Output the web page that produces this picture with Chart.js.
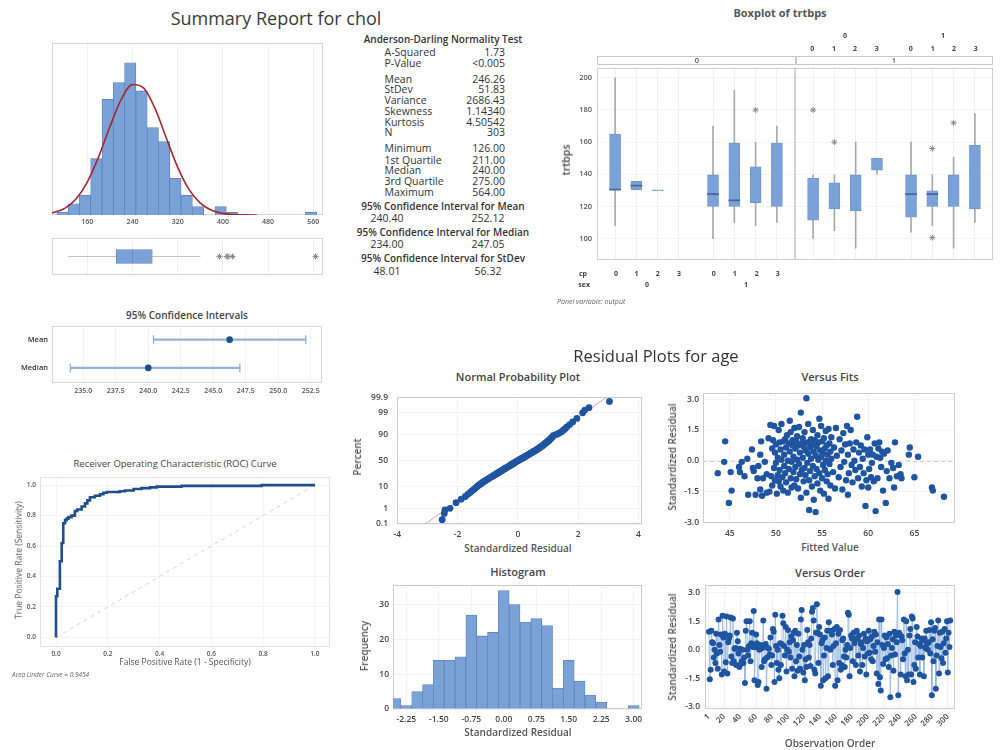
<!DOCTYPE html>
<html><head><meta charset="utf-8">
<script src="https://cdn.jsdelivr.net/npm/chart.js@4.4.1/dist/chart.umd.min.js"></script>
<style>
html,body{margin:0;padding:0;background:#fff;width:1000px;height:750px;overflow:hidden;font-family:'Open Sans',sans-serif;}
.t{position:absolute;white-space:nowrap;line-height:1;color:#333;}
canvas{position:absolute;}
.strip{position:absolute;border:1px solid #c8c8c8;box-sizing:border-box;background:#fff;}
</style></head><body>
<script>
// ---------------- DATA ----------------
// Summary report for chol
const cholBinMid = [116,136,156,176,196,216,236,256,276,296,316,336,356,376,396,416,436,456,476,496,516,536,556];
const cholCount  = [1,4,7,20,41,47,54,44,31,26,13,7,3,0,3,1,0,0,0,0,0,0,1];
const cholFitX = [96,100,120,140,160,180,200,220,240,260,280,300,320,340,360,380,400,420,440,460];
const cholFitY = [0.70,0.87,2.37,5.70,11.67,20.6,31.3,41.0,46.3,45.0,37.7,27.2,16.9,9.08,4.19,1.67,0.57,0.17,0.04,0.01];
const cholXTicks = [160,240,320,400,480,560];
const cholQuart = [211,240,275];     // Q1, median, Q3
const cholWhisk = [126,360];
const cholOut = [394,407,409,417,564];
const statLabels = ['A-Squared','P-Value','Mean','StDev','Variance','Skewness','Kurtosis','N','Minimum','1st Quartile','Median','3rd Quartile','Maximum'];
const statValues = ['1.73','<0.005','246.26','51.83','2686.43','1.14340','4.50542','303','126.00','211.00','240.00','275.00','564.00'];
const ciHeads = ['95% Confidence Interval for Mean','95% Confidence Interval for Median','95% Confidence Interval for StDev'];
const ciHeadLow = ['240.40','234.00','48.01'];
const ciHeadHigh = ['252.12','247.05','56.32'];
// 95% confidence intervals
const ciNames = ['Mean','Median'];
const ciLow  = [240.40,234.00];
const ciHigh = [252.12,247.05];
const ciEst  = [246.26,240.00];
const ciTicks = [235,237.5,240,242.5,245,247.5,250,252.5];
// ROC
const rocFpr = [0,0,0.005,0.015,0.022,0.028,0.035,0.041,0.048,0.060,0.073,0.082,0.099,0.112,0.121,0.131,0.150,0.170,0.183,0.196,0.247,0.266,0.300,0.330,0.363,0.389,0.485,0.794,1.0];
const rocTpr = [0,0.17,0.27,0.32,0.50,0.62,0.75,0.77,0.78,0.79,0.80,0.83,0.84,0.86,0.88,0.90,0.92,0.93,0.94,0.95,0.955,0.96,0.965,0.975,0.98,0.985,0.99,0.995,1.0];
const rocTicks = [0,0.2,0.4,0.6,0.8,1.0];
// Boxplot of trtbps (panel: output, groups: sex, cp)
const bpOutput = [0,0,0,0,0,0,0,0,1,1,1,1,1,1,1,1];
const bpSex    = [0,0,0,0,1,1,1,1,0,0,0,0,1,1,1,1];
const bpCp     = [0,1,2,3,0,1,2,3,0,1,2,3,0,1,2,3];
const bpQ1  = [130.5,130.3,129.7,null,120,120,122.4,120,111.5,118.4,117.2,142.6,113.3,120,120,118.4];
const bpMed = [130.5,133,null,null,127.7,123.8,null,null,null,null,null,null,127.7,127.7,null,null];
const bpQ3  = [165,135.6,130.3,null,139.6,159.4,144.6,159.4,137.6,134.7,139.6,150,139.6,129.7,139.6,158];
const bpWLo = [108,null,null,null,100,110,108,110,100,105,94,140,104,108,94,110];
const bpWHi = [200,null,null,null,170,192,160,170,139.6,139.6,160,150,160,139.6,150.5,177.7];
const bpOutGroup = [6,8,9,13,13,14];
const bpOutVal   = [180,180,160,156,100.6,172];
const bpYTicks = [100,120,140,160,180,200];
// Residual plots for age
const probPct = [0.2,0.5,0.8,1,2,3,4,5,6,7,8,9,10,11,12,13,14,15,16,17,18,19,20,21,22,23,24,25,26,27,28,29,30,31,32,33,34,35,36,37,38,39,40,41,42,43,44,45,46,47,48,49,50,51,52,53,54,55,56,57,58,59,60,61,62,63,64,65,66,67,68,69,70,71,72,73,74,75,76,77,78,79,80,81,82,83,84,85,86,87,88,89,90,91,92,93,94,95,96,97,98,99,99.3,99.5,99.8];
const probRes = [-2.51,-2.44,-2.42,-2.25,-2.05,-1.88,-1.74,-1.66,-1.58,-1.52,-1.46,-1.41,-1.36,-1.32,-1.27,-1.22,-1.18,-1.14,-1.10,-1.05,-1.01,-0.97,-0.93,-0.89,-0.85,-0.81,-0.78,-0.74,-0.71,-0.67,-0.64,-0.61,-0.57,-0.54,-0.51,-0.48,-0.45,-0.42,-0.39,-0.36,-0.33,-0.30,-0.27,-0.24,-0.21,-0.19,-0.16,-0.13,-0.10,-0.08,-0.05,-0.02,0.01,0.04,0.07,0.10,0.13,0.16,0.19,0.22,0.25,0.28,0.31,0.34,0.37,0.40,0.43,0.46,0.49,0.52,0.56,0.59,0.62,0.65,0.68,0.71,0.74,0.77,0.80,0.83,0.86,0.89,0.92,0.95,0.98,1.01,1.04,1.07,1.10,1.13,1.16,1.19,1.30,1.38,1.45,1.51,1.57,1.63,1.72,1.82,1.96,2.15,2.22,2.36,3.04];
const probFitRes = [-3.08,2.95];
const probFitPct = [0.1,99.9];
const probXTicks = [-4,-2,0,2,4];
const probYTicks = [0.1,1,10,50,90,99,99.9];
const fitsVsResid = [[43.7,-0.60],[44.4,-0.05],[44.5,0.95],[44.9,-2.05],[45.1,-0.55],[45.2,-1.45],[46.0,-0.30],[46.1,-0.55],[46.3,-0.05],[46.6,-0.75],[46.9,0.10],[47.0,-1.65],[47.4,0.55],[47.5,-0.35],[47.6,-0.50],[47.8,-1.65],[48.0,-0.85],[48.1,-0.25],[48.3,0.30],[48.4,0.95],[48.3,-1.40],[48.5,-1.70],[48.6,-0.85],[48.8,-0.05],
[49.0,-0.65],[49.0,-1.55],[49.2,1.10],[49.3,-1.50],[49.4,1.75],[49.5,-0.75],[49.6,0.60],[49.7,1.00],[49.6,-1.20],[49.8,1.70],[49.8,-0.35],[49.9,0.40],[49.9,-0.95],[50.0,0.80],[50.0,-0.10],[50.1,-1.60],[50.2,0.15],[50.2,-0.70],[50.3,1.50],[50.3,-1.00],[50.4,0.90],[50.4,-0.45],[50.5,0.55],[50.5,-1.25],[50.6,1.80],[50.6,0.05],[50.7,-0.80],[50.8,0.95],[50.8,-1.45],[50.9,0.30],[50.9,-0.25],[51.0,1.05],[51.0,-0.60],[51.1,0.65],[51.1,-1.05],[51.2,1.25],[51.3,0.00],[51.3,-1.55],[51.4,0.85],[51.4,-0.40],[51.5,1.95],[51.5,0.45],[51.6,-0.85],[51.6,1.40],[51.7,-0.05],[51.7,-1.30],[51.8,0.75],[51.8,1.00],[51.9,-0.55],[51.9,0.20],[52.0,-1.20],[52.0,1.60],[52.1,0.60],[52.1,-0.30],[52.2,0.95],[52.2,-0.90],[52.3,1.20],[52.3,0.05],[52.4,-1.35],[52.4,0.75],[52.5,-0.15],[52.5,1.65],[52.6,0.40],[52.6,-0.65],[52.7,2.35],[52.7,-1.80],[52.8,0.85],[52.8,-0.45],[52.9,1.10],[52.9,0.15],[53.0,-1.00],[53.0,0.70],[53.1,-0.35],[53.1,1.40],[53.2,0.50],[53.2,-0.70],[53.3,3.05],[53.3,-1.55],[53.4,0.90],[53.4,-0.10],[53.5,1.80],[53.5,0.35],[53.6,-0.95],[53.6,-2.40],[53.7,0.65],[53.7,-0.50],[53.8,1.05],[53.8,0.10],[53.9,-1.25],[53.9,0.80],[54.0,-0.25],[54.0,1.50],[54.1,0.45],[54.1,-1.90],[54.2,-0.75],[54.2,1.00],[54.3,0.25],[54.3,-2.50],[54.4,0.70],[54.4,-0.40],[54.5,1.25],[54.5,-1.10],[54.6,0.05],[54.6,0.90],[54.7,2.05],[54.7,-0.60],[54.8,0.50],[54.8,-1.45],[54.9,1.70],[54.9,0.20],[55.0,-0.85],[55.0,0.95],[55.1,0.35],[55.1,-0.20],[55.2,1.10],[55.2,-1.60],[55.3,0.60],[55.3,-0.45],[55.4,1.45],[55.4,0.00],[55.5,-1.00],[55.5,0.75],[55.6,0.30],[55.6,-0.65],[55.7,1.55],[55.7,-1.85],[55.8,0.85],[55.8,-0.15],[55.9,0.45],[55.9,-1.20],[56.0,1.15],[56.0,0.10],[56.2,-0.55],[56.3,0.65],[56.4,-1.35],[56.5,1.60],[56.6,0.25],[56.8,-0.80],[56.9,1.05],[57.0,-0.30],[57.1,0.50],[57.2,-1.40],[57.3,1.35],[57.4,-0.05],[57.5,0.80],[57.6,-0.95],[57.7,1.70],[57.8,0.30],[57.8,-1.65],[57.9,-0.60],[58.0,0.85],[58.1,1.50],[58.2,-0.20],[58.3,-1.05],[58.4,0.55],[58.5,0.00],[58.6,-0.45],[58.7,0.90],[58.8,2.15],[58.9,-0.85],[59.0,0.40],[59.1,-0.30],[59.2,0.75],[59.3,-1.25],[59.4,0.10],[59.5,-0.60],[59.6,0.55],[59.7,-2.20],[59.8,-0.95],[59.9,1.15],[60.0,0.30],[60.0,-1.30],[60.1,-0.40],[60.2,0.55],[60.3,-0.80],[60.4,-0.10],[60.5,0.30],[60.6,-1.00],[60.7,0.85],[60.8,-2.45],[60.9,0.20],[61.0,-0.85],[61.1,0.60],[61.2,0.90],[61.3,0.15],[61.4,-0.30],[61.5,0.45],[61.6,-1.45],[61.7,0.35],[61.9,-2.05],[62.0,-0.50],[62.1,0.50],[62.3,-0.85],[62.5,-0.10],[62.7,-0.35],[62.9,0.90],[62.8,-1.30],[63.1,-0.75],[63.3,-0.20],[63.5,-0.65],[63.6,-0.85],[64.4,0.30],[64.5,0.65],[65.0,-0.80],[65.4,0.20],[66.9,-1.30],[67.0,-1.45],[68.2,-1.75]];
const fitsXTicks = [45,50,55,60,65];
const residYTicks = [-3,-1.5,0,1.5,3];
const histMid = [-2.5,-2.25,-2,-1.75,-1.5,-1.25,-1,-0.75,-0.5,-0.25,0,0.25,0.5,0.75,1,1.25,1.5,1.75,2,2.25,2.5,2.75,3];
const histCount = [3,1,5,7,14,14,15,27,21,22,34,30,25,26,24,6,14,8,4,2,0,0,1];
const histXTicks = [-2.25,-1.5,-0.75,0,0.75,1.5,2.25,3];
const histYTicks = [0,10,20,30];
const resOrder = [
0.95,-1.55,-1.05,1.00,0.40,0.35,-0.40,0.00,-0.70,0.85,-0.20,-1.00,1.60,0.25,-0.10,0.80,-1.30,1.80,0.65,-1.15,
0.85,-0.65,1.75,-1.25,0.40,0.60,0.75,1.70,-0.35,-0.70,1.65,-0.60,0.05,0.10,-0.80,0.90,0.45,-0.20,-0.90,0.05,
-0.75,-0.60,0.00,-0.70,-0.40,-1.75,1.00,1.50,0.00,-0.30,0.20,1.50,-0.60,0.35,0.90,0.15,2.05,-1.60,0.15,0.80,
0.35,-1.85,-1.70,0.00,0.05,0.25,-0.90,0.10,1.55,-0.60,-0.50,0.30,-2.05,-0.40,0.10,0.05,-0.25,0.65,-0.80,-0.30,
1.10,0.95,-1.70,1.85,0.20,-0.70,0.00,-1.05,-1.50,0.35,-0.80,0.30,1.80,1.40,0.20,-0.30,1.20,-1.15,0.00,1.05,
-0.10,0.40,-0.40,0.70,-1.00,0.50,0.90,-1.40,1.00,-0.60,0.25,-1.10,0.85,-0.35,-1.00,1.60,2.10,0.00,-1.20,0.25,
-1.60,-0.50,-0.90,1.05,0.40,-0.40,0.25,-0.85,0.60,2.00,2.20,1.55,-1.05,-1.25,0.90,2.40,0.90,-0.70,1.20,0.80,
-1.90,0.35,0.50,-1.60,-0.30,0.65,-1.50,0.10,1.00,-1.40,1.45,0.05,0.00,1.00,0.80,-0.80,0.20,1.10,-1.90,0.35,
1.20,-1.60,0.85,-0.70,1.05,-1.05,-0.80,0.50,0.60,-0.35,-0.90,0.00,-0.40,0.25,1.95,1.85,-1.40,0.10,0.75,0.60,
-0.60,0.90,0.35,0.60,-0.80,1.00,0.55,-0.30,0.75,-1.15,0.30,0.40,-0.80,0.10,0.85,-0.35,0.60,-1.30,0.45,-0.20,
1.00,-0.15,0.55,-0.50,0.70,-0.60,0.20,0.95,-0.10,0.80,-1.25,0.40,-1.80,1.60,-1.45,-2.15,1.60,0.25,-0.75,0.10,
0.75,-0.50,0.65,-0.45,0.30,-0.90,0.85,-2.50,-0.30,0.10,0.55,-1.10,0.95,-0.25,0.75,0.40,3.05,-2.40,0.90,0.80,
-1.30,0.70,0.50,-0.50,1.60,-0.20,-1.40,1.50,-1.60,0.00,-1.30,0.75,1.10,-1.30,1.75,1.65,-1.70,-0.80,0.40,-1.00,
1.20,0.70,-0.40,0.30,-1.30,0.20,0.60,-0.40,0.50,-1.40,0.60,0.10,1.00,0.30,0.00,0.40,1.05,-0.20,1.45,-2.40,
0.55,-0.60,1.00,1.15,-2.05,-0.30,0.20,1.55,-1.25,0.90,0.15,-0.45,0.95,-0.70,0.35,1.10,-0.15,0.60,1.50,-1.20,
0.90,0.15,1.55];
const orderXTicks = [1,20,40,60,80,100,120,140,160,180,200,220,240,260,280,300];

// ---------------- STYLE / LAYOUT ----------------
const BLUE_FILL = '#7ba2d8', BLUE_EDGE = '#5b82ba', DOT = '#1f55a0';
const PANEL_W = 9.3, SEX_GAP = 4.6;
Chart.defaults.font.family = "'Open Sans', sans-serif";

Chart.register({id:'frame', beforeDatasetsDraw(chart, args, o){
  if(!o || !o.color) return;
  const a = chart.chartArea, c = chart.ctx;
  c.save(); c.strokeStyle = o.color; c.lineWidth = 1;
  c.strokeRect(Math.round(a.left)+0.5, Math.round(a.top)+0.5, Math.round(a.right-a.left)-1, Math.round(a.bottom-a.top)-1);
  c.restore();
}});
Chart.register({id:'refline', beforeDatasetsDraw(chart, args, o){
  if(!o || o.y === undefined) return;
  const a = chart.chartArea, c = chart.ctx, y = Math.round(chart.scales.y.getPixelForValue(o.y))+0.5;
  c.save(); c.strokeStyle = o.color || '#ddd'; c.setLineDash([4,3]); c.lineWidth = 1;
  c.beginPath(); c.moveTo(a.left, y); c.lineTo(a.right, y); c.stroke(); c.restore();
}});

function T(str, x, y, o = {}){
  const d = document.createElement('div'); d.className = 't'; d.textContent = str;
  d.style.fontSize = (o.size || 10) + 'px';
  if(o.weight) d.style.fontWeight = o.weight;
  if(o.color) d.style.color = o.color;
  if(o.italic) d.style.fontStyle = 'italic';
  const a = o.align || 'c';
  const tx = a === 'c' ? '-50%' : a === 'r' ? '-100%' : '0';
  d.style.left = x + 'px'; d.style.top = y + 'px';
  d.style.transform = `translate(${tx},-50%)` + (o.rot ? ` rotate(${o.rot}deg)` : '');
  document.body.appendChild(d);
}

function ax(min, max, ticks, fmt, opt = {}){
  return {
    type:'linear', min, max, offset:false,
    grid:{display: !!opt.grid, color: opt.grid || '#eee', drawTicks:false, offset:false},
    border:{display:false},
    afterBuildTicks: s => { s.ticks = ticks.map(v => ({value:v})); },
    ticks:{display: ticks.length > 0 && !opt.hide, autoSkip:false, padding: opt.pad ?? 3,
      color: opt.color || '#444', font:{size: opt.size || 8.5, weight: opt.weight || '600'},
      maxRotation: opt.rot || 0, minRotation: opt.rot || 0,
      callback: (v, i) => fmt ? fmt(v, i) : String(v)}
  };
}

function mk(plot, m, cfg){
  const [l,t,r,b] = plot, [ml,mt,mr,mb] = m;
  const c = document.createElement('canvas');
  const W = r - l + ml + mr, H = b - t + mt + mb;
  c.width = W; c.height = H;
  c.style.left = (l - ml) + 'px'; c.style.top = (t - mt) + 'px';
  c.style.width = W + 'px'; c.style.height = H + 'px';
  document.body.appendChild(c);
  const o = cfg.options;
  o.responsive = false; o.animation = false; o.devicePixelRatio = 1;
  o.layout = {padding:{left:0, top:mt, right:mr, bottom:0}};
  o.plugins = Object.assign({legend:{display:false}, tooltip:{enabled:false}}, o.plugins || {});
  o.scales.x.afterFit = s => { s.height = mb; };
  o.scales.y.afterFit = s => { s.width = ml; };
  return new Chart(c, cfg);
}

// probit transform for the normal probability scale
function probit(p){
  const a=[-39.69683028665376,220.9460984245205,-275.9285104469687,138.3577518672690,-30.66479806614716,2.506628277459239];
  const b=[-54.47609879822406,161.5858368580409,-155.6989798598866,66.80131188771972,-13.28068155288572];
  const c=[-0.007784894002430293,-0.3223964580411365,-2.400758277161838,-2.549732539343734,4.374664141464968,2.938163982698783];
  const d=[0.007784695709041462,0.3224671290700398,2.445134137142996,3.754408661907416];
  const pl=0.02425; let q,r;
  if(p<pl){q=Math.sqrt(-2*Math.log(p));return (((((c[0]*q+c[1])*q+c[2])*q+c[3])*q+c[4])*q+c[5])/((((d[0]*q+d[1])*q+d[2])*q+d[3])*q+1);}
  if(p<=1-pl){q=p-0.5;r=q*q;return (((((a[0]*r+a[1])*r+a[2])*r+a[3])*r+a[4])*r+a[5])*q/(((((b[0]*r+b[1])*r+b[2])*r+b[3])*r+b[4])*r+1);}
  q=Math.sqrt(-2*Math.log(1-p));return -(((((c[0]*q+c[1])*q+c[2])*q+c[3])*q+c[4])*q+c[5])/((((d[0]*q+d[1])*q+d[2])*q+d[3])*q+1);
}
const pz = pct => probit(pct/100);

// ---------------- SUMMARY REPORT ----------------
T('Summary Report for chol', 276, 18, {size:18, color:'#3a3a3a', weight:500});
mk([52,43,323,215],[6,8,12,15],{
  type:'bar',
  data:{datasets:[
    {type:'line', data:cholFitX.map((x,i)=>({x, y:cholFitY[i]})), borderColor:'#a3282e', borderWidth:1.6, pointRadius:0, cubicInterpolationMode:'monotone', order:1},
    {type:'bar', data:cholBinMid.map((x,i)=>({x, y:cholCount[i]})), backgroundColor:BLUE_FILL, borderColor:BLUE_EDGE, borderWidth:0.8, barPercentage:1, categoryPercentage:1, order:2}
  ]},
  options:{scales:{
    x: ax(97.5,577.2,cholXTicks,null,{size:7,grid:'#f1f1f1',pad:3,color:'#555'}),
    y: ax(0,61,[],null)
  }, plugins:{frame:{color:'#d6d6d6'}}}
});
mk([52,237,323,276],[6,4,12,4],{
  type:'bar',
  data:{datasets:[
    {type:'scatter', data:cholOut.map(x=>({x, y:0})), pointStyle:'star', radius:3, borderColor:'#8a8a8a', borderWidth:1, order:1},
    {type:'bar', indexAxis:'y', grouped:false, data:[{x:[cholQuart[1],cholQuart[2]], y:0}], backgroundColor:BLUE_FILL, borderColor:BLUE_EDGE, borderWidth:0.8, borderSkipped:false, barThickness:14, order:2},
    {type:'bar', indexAxis:'y', grouped:false, data:[{x:[cholQuart[0],cholQuart[1]], y:0}], backgroundColor:BLUE_FILL, borderColor:BLUE_EDGE, borderWidth:0.8, borderSkipped:false, barThickness:14, order:3},
    {type:'line', data:cholWhisk.map(x=>({x, y:0})), borderColor:'#c4c4c4', borderWidth:1, pointRadius:0, order:4}
  ]},
  options:{scales:{
    x: ax(97.5,577.2,cholXTicks,null,{grid:'#f1f1f1',hide:true}),
    y: ax(-1,1,[],null)
  }, plugins:{frame:{color:'#d6d6d6'}}}
});

// statistics text block
T('Anderson-Darling Normality Test', 443, 39, {size:10, weight:600});
const statY = [51.7,62.7,78.7,89.3,100,110.7,121.7,132.3,148.3,159.7,170.3,181.3,191.7];
statLabels.forEach((s,i)=>{ T(s, 384.5, statY[i], {size:10.5, weight:500, align:'l'}); T(statValues[i], 505, statY[i], {size:10.5, weight:500, align:'r'}); });
const ciHeadY = [205.7,231.7,258];
ciHeads.forEach((h,i)=>{ T(h, 443, ciHeadY[i], {size:10, weight:600}); T(ciHeadLow[i], 387, ciHeadY[i]+12.5, {size:10.5, weight:500}); T(ciHeadHigh[i], 488, ciHeadY[i]+12.5, {size:10.5, weight:500}); });

// 95% confidence intervals
T('95% Confidence Intervals', 187, 315, {size:10, weight:600, color:'#444'});
mk([52,323,322,382],[52,6,12,14],{
  type:'bar',
  data:{labels:ciNames, datasets:[
    {type:'scatter', data:ciEst.map((x,i)=>({x, y:ciNames[i]})), pointRadius:3.3, backgroundColor:'#1f4e8c', borderWidth:0, order:1},
    {type:'scatter', data:ciLow.map((x,i)=>({x, y:ciNames[i]})).concat(ciHigh.map((x,i)=>({x, y:ciNames[i]}))), pointStyle:'line', rotation:90, radius:4.5, borderColor:'#93b3d6', borderWidth:1.3, order:2},
    {type:'bar', indexAxis:'y', data:ciLow.map((lo,i)=>[lo, ciHigh[i]]), backgroundColor:'#93b3d6', barThickness:1.4, order:3}
  ]},
  options:{scales:{
    x: ax(232.59,253.37,ciTicks,v=>v.toFixed(1),{size:7,grid:'#f3f3f3',pad:5,color:'#555'}),
    y: {type:'category', offset:true, grid:{display:false, drawTicks:false}, border:{display:false},
        ticks:{padding:4, color:'#333', font:{size:7.5, weight:'600'}}}
  }, plugins:{frame:{color:'#d6d6d6'}}}
});

// ROC curve
T('Receiver Operating Characteristic (ROC) Curve', 175, 464, {size:9.5, color:'#444', weight:500});
mk([40,475,330,647],[40,6,10,16],{
  type:'line',
  data:{datasets:[
    {data:rocFpr.map((x,i)=>({x, y:rocTpr[i]})), stepped:'after', borderColor:'#1f4e8c', borderWidth:2.6, pointRadius:0, order:1},
    {data:[{x:0,y:0},{x:1,y:1}], borderColor:'rgba(220,160,160,0.55)', borderDash:[4,4], borderWidth:1, pointRadius:0, order:2}
  ]},
  options:{scales:{
    x: ax(-0.0618,1.058,rocTicks,v=>v.toFixed(1),{size:6.5,grid:'#f4f4f4',pad:3,color:'#555'}),
    y: ax(-0.063,1.054,rocTicks,v=>v.toFixed(1),{size:6.5,grid:'#f4f4f4',pad:4,color:'#555'})
  }, plugins:{frame:{color:'#e2e2e2'}}}
});
T('False Positive Rate (1 - Specificity)', 185, 662, {size:8.5, color:'#555', weight:500});
T('True Positive Rate (Sensitivity)', 19, 560, {size:8.5, color:'#555', weight:500, rot:-90});
T('Area Under Curve = 0.9454', 12, 675, {size:6.5, color:'#666', italic:true, align:'l'});

// ---------------- BOXPLOT OF TRTBPS ----------------
T('Boxplot of trtbps', 780, 12, {size:11, weight:700, color:'#555'});
const bpPos = bpOutput.map((o,i)=> o*PANEL_W + bpSex[i]*SEX_GAP + bpCp[i] + 1);
const idx = bpPos.map((p,i)=>i);
mk([597,64,993,263],[31,6,5,6],{
  type:'bar',
  data:{datasets:[
    {type:'line', data:[{x:PANEL_W+0.15, y:87},{x:PANEL_W+0.15, y:206.4}], borderColor:'#aaaaaa', borderWidth:1, pointRadius:0, order:1},
    {type:'scatter', data:bpOutGroup.map((g,i)=>({x:bpPos[g], y:bpOutVal[i]})), pointStyle:'star', radius:3, borderColor:'#8a8a8a', borderWidth:1, order:2},
    {type:'bar', grouped:false, data:idx.filter(i=>bpMed[i]!==null).map(i=>({x:bpPos[i], y:[bpMed[i]-0.35, bpMed[i]+0.35]})), backgroundColor:'#45679a', barThickness:11, order:3},
    {type:'bar', grouped:false, data:idx.filter(i=>bpQ1[i]!==null).map(i=>({x:bpPos[i], y:[bpQ1[i], bpQ3[i]]})), backgroundColor:BLUE_FILL, borderColor:'#6d94cb', borderWidth:0.8, borderSkipped:false, barThickness:11, order:4},
    {type:'bar', grouped:false, data:idx.filter(i=>bpWLo[i]!==null).map(i=>({x:bpPos[i], y:[bpWLo[i], bpWHi[i]]})), backgroundColor:'#a8a8a8', barThickness:1, order:5}
  ]},
  options:{scales:{
    x: ax(0.15,18.75,bpPos,null,{grid:'#f1f1f1',hide:true}),
    y: ax(87,206.4,bpYTicks,null,{size:7.5,grid:'#f3f3f3',pad:5,color:'#555'})
  }, plugins:{frame:{color:'#cfcfcf'}}}
});
(function(){
  const s = document.createElement('div'); s.className='strip';
  s.style.left='597px'; s.style.top='56px'; s.style.width='396px'; s.style.height='9px';
  document.body.appendChild(s);
  const d = document.createElement('div'); d.className='strip';
  d.style.left='795px'; d.style.top='56px'; d.style.width='1px'; d.style.height='9px';
  document.body.appendChild(d);
})();
T('0', 697, 60.5, {size:7.5, weight:600, color:'#555'});
T('1', 894, 60.5, {size:7.5, weight:600, color:'#555'});
// top group labels (panel output = 1)
const topX = [812.3,834,855,876.7,910.7,932.7,954,975.7];
topX.forEach((x,i)=>T(String(i%4), x, 48, {size:7, weight:700, color:'#444'}));
T('0', 845, 35, {size:7, weight:700, color:'#444'});
T('1', 943, 35, {size:7, weight:700, color:'#444'});
// bottom group labels (panel output = 0)
const botX = [616,636.5,657.7,679,713.7,734.7,756.7,777.7];
botX.forEach((x,i)=>T(String(i%4), x, 272.5, {size:7, weight:700, color:'#444'}));
T('cp', 587, 272.5, {size:7, weight:700, color:'#444', align:'r'});
T('sex', 590, 283.5, {size:7, weight:700, color:'#444', align:'r'});
T('0', 647, 283.5, {size:7, weight:700, color:'#444'});
T('1', 746, 283.5, {size:7, weight:700, color:'#444'});
T('Panel variable: output', 557, 301, {size:7, italic:true, color:'#666', align:'l'});
T('trtbps', 566, 160, {size:10.5, weight:600, color:'#444', rot:-90});

// ---------------- RESIDUAL PLOTS ----------------
T('Residual Plots for age', 656, 356, {size:16.5, color:'#333', weight:500});
const subT = {size:11, weight:600, color:'#444'};
const axT = {size:10, weight:600, color:'#555'};

T('Normal Probability Plot', 518, 376, subT);
mk([397,391,642,524],[36,8,10,17],{
  type:'scatter',
  data:{datasets:[
    {data:probRes.map((x,i)=>({x, y:pz(probPct[i])})), pointRadius:3.4, backgroundColor:DOT, borderWidth:0, order:1},
    {type:'line', data:probFitRes.map((x,i)=>({x, y:pz(probFitPct[i])})), borderColor:'#d9a5a5', borderWidth:1, pointRadius:0, order:2}
  ]},
  options:{scales:{
    x: ax(-4.01,4.12,probXTicks,null,{grid:'#f2f2f2',pad:5}),
    y: ax(pz(0.1),pz(99.9),probYTicks.map(pz),(v,i)=>String(probYTicks[i]),{grid:'#f2f2f2',pad:9})
  }, plugins:{frame:{color:'#cccccc'}}}
});
T('Percent', 357, 457, Object.assign({rot:-90}, axT));
T('Standardized Residual', 518, 548, axT);

T('Versus Fits', 830, 376, subT);
mk([703,392,955,523],[30,8,10,17],{
  type:'scatter',
  data:{datasets:[
    {data:fitsVsResid.map(p=>({x:p[0], y:p[1]})), pointRadius:3.2, backgroundColor:DOT, borderWidth:0}
  ]},
  options:{scales:{
    x: ax(42.1,69.4,fitsXTicks,null,{grid:'#f2f2f2',pad:5}),
    y: ax(-3.03,3.30,residYTicks,v=>v.toFixed(1),{grid:'#f2f2f2',pad:4})
  }, plugins:{frame:{color:'#cccccc'}, refline:{y:0, color:'#d5d5d5'}}}
});
T('Standardized Residual', 672, 457, Object.assign({rot:-90}, axT));
T('Fitted Value', 830, 547, axT);

T('Histogram', 518, 571, subT);
mk([393,584,642,709],[30,8,10,17],{
  type:'bar',
  data:{datasets:[
    {data:histMid.map((x,i)=>({x, y:histCount[i]})), backgroundColor:BLUE_FILL, borderColor:BLUE_EDGE, borderWidth:0.8, barPercentage:1, categoryPercentage:1}
  ]},
  options:{scales:{
    x: ax(-2.557,3.19,histXTicks,v=>v.toFixed(2),{grid:'#f2f2f2',pad:5}),
    y: ax(0,35.6,histYTicks,null,{grid:'#f2f2f2',pad:4})
  }, plugins:{frame:{color:'#cccccc'}}}
});
T('Frequency', 364, 646, Object.assign({rot:-90}, axT));
T('Standardized Residual', 518, 732, axT);

T('Versus Order', 830, 572, subT);
mk([705,583,955,709],[30,8,10,24],{
  type:'line',
  data:{datasets:[
    {data:resOrder.map((v,i)=>({x:i+1, y:v})), borderColor:'#8fb3de', borderWidth:0.8, pointRadius:3, pointBackgroundColor:DOT, pointBorderWidth:0}
  ]},
  options:{scales:{
    x: ax(-4,309,orderXTicks,null,{grid:'#f2f2f2',pad:3,rot:45,size:8}),
    y: ax(-3.12,3.41,residYTicks,v=>v.toFixed(1),{grid:'#f2f2f2',pad:5})
  }, plugins:{frame:{color:'#cccccc'}}}
});
T('Standardized Residual', 672, 647, Object.assign({rot:-90}, axT));
T('Observation Order', 830, 743, axT);
</script>
</body></html>
